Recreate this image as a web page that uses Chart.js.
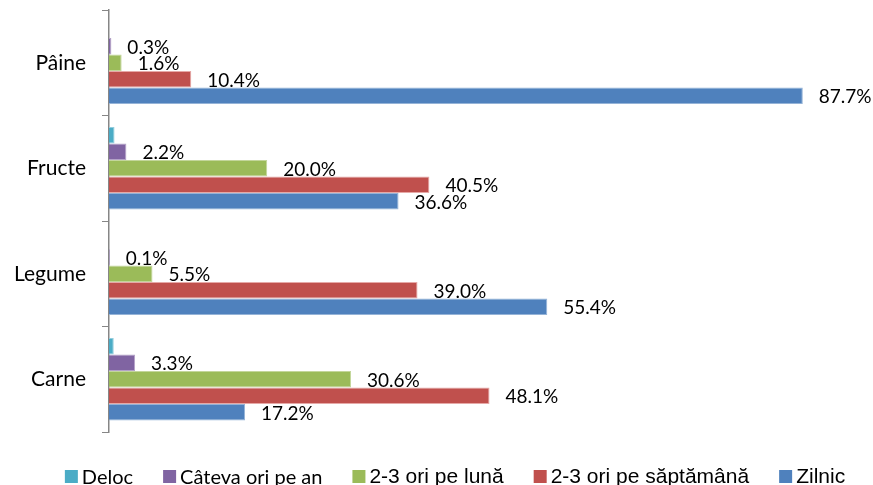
<!DOCTYPE html>
<html>
<head>
<meta charset="utf-8">
<script src="https://cdn.jsdelivr.net/npm/chart.js@4/dist/chart.umd.min.js"></script>
<style>
  html, body { margin: 0; padding: 0; background: #ffffff; }
  #wrap { width: 873px; height: 485px; }
</style>
</head>
<body>
<div id="wrap"><canvas id="c" width="873" height="485"></canvas></div>
<script>
// ---- data ----
const categories = ['Pâine', 'Fructe', 'Legume', 'Carne'];
const seriesNames = ['Deloc', 'Câteva ori pe an', '2-3 ori pe lună', '2-3 ori pe săptămână', 'Zilnic'];
const deloc        = [0.0, 0.7, 0.0, 0.6];
const catevaOri    = [0.3, 2.2, 0.1, 3.3];
const oriPeLuna    = [1.6, 20.0, 5.5, 30.6];
const oriPeSapt    = [10.4, 40.5, 39.0, 48.1];
const zilnic       = [87.7, 36.6, 55.4, 17.2];
const seriesValues = [deloc, catevaOri, oriPeLuna, oriPeSapt, zilnic];
const seriesShowLabels = [false, true, true, true, true];

// ---- styles ----
const fillColors   = ['#4BACC6', '#8064A2', '#9BBB59', '#C0504D', '#4F81BD'];
const borderColors = ['#93CDDD', '#B3A2C7', '#C3D69B', '#E6A9A7', '#95B3D7'];
const FONT_A = "'Liberation Sans', Arial, sans-serif";
const FONT_C = "Lato, 'Liberation Sans', sans-serif";
const legendFonts = ['20px ' + FONT_C, '20px ' + FONT_C, '21px ' + FONT_A, '21px ' + FONT_A, '21px ' + FONT_A];

const datasets = seriesNames.map((name, i) => ({
  label: name,
  data: seriesValues[i],
  backgroundColor: fillColors[i],
  borderColor: borderColors[i],
  borderWidth: 1,
  borderSkipped: 'start',
  categoryPercentage: 0.782,
  barPercentage: 1.0,
  showLabels: seriesShowLabels[i]
}));

const valueLabels = {
  id: 'valueLabels',
  afterDatasetsDraw(chart) {
    const ctx = chart.ctx;
    ctx.save();
    ctx.font = '19px ' + FONT_C;
    ctx.fillStyle = '#000000';
    ctx.textAlign = 'left';
    ctx.textBaseline = 'middle';
    chart.data.datasets.forEach((ds, di) => {
      if (!ds.showLabels) return;
      const meta = chart.getDatasetMeta(di);
      meta.data.forEach((el, j) => {
        const v = ds.data[j];
        ctx.fillText(v.toFixed(1) + '%', el.x + 16, el.y + 1.5);
      });
    });
    ctx.restore();
  }
};

const bottomLegend = {
  id: 'bottomLegend',
  afterDraw(chart) {
    const ctx = chart.ctx;
    ctx.save();
    ctx.textBaseline = 'middle';
    ctx.textAlign = 'left';
    const box = 13, boxGap = 4, itemGap = 30;
    const items = chart.data.datasets.map((ds, i) => {
      ctx.font = legendFonts[i];
      return { text: ds.label, color: ds.backgroundColor, font: legendFonts[i],
               w: box + boxGap + ctx.measureText(ds.label).width };
    });
    const total = items.reduce((s, it) => s + it.w, 0) + itemGap * (items.length - 1);
    let x = 455 - total / 2;
    const yc = 476.5;
    items.forEach(it => {
      ctx.fillStyle = it.color;
      ctx.fillRect(x, yc - box / 2, box, box);
      ctx.fillStyle = '#000000';
      ctx.font = it.font;
      ctx.fillText(it.text, x + box + boxGap, yc + 1);
      x += it.w + itemGap;
    });
    ctx.restore();
  }
};

new Chart(document.getElementById('c'), {
  type: 'bar',
  data: { labels: categories, datasets },
  options: {
    indexAxis: 'y',
    responsive: false,
    devicePixelRatio: 1,
    animation: false,
    layout: { padding: { left: 0, right: 52, top: 10, bottom: 53 } },
    plugins: {
      legend: { display: false },
      tooltip: { enabled: false }
    },
    scales: {
      x: { display: false, min: 0, max: 90 },
      y: {
        afterFit(scale) { scale.width = 109; scale.paddingTop = 0; scale.paddingBottom = 0; },
        grid: {
          display: true,
          drawOnChartArea: false,
          drawTicks: true,
          tickLength: 7,
          offset: true,
          color: '#868686',
          lineWidth: 1
        },
        border: { display: true, color: '#868686', width: 1.5 },
        ticks: {
          color: '#000000',
          padding: 16,
          font: { family: FONT_C, size: 21 }
        }
      }
    }
  },
  plugins: [valueLabels, bottomLegend]
});
</script>
</body>
</html>
